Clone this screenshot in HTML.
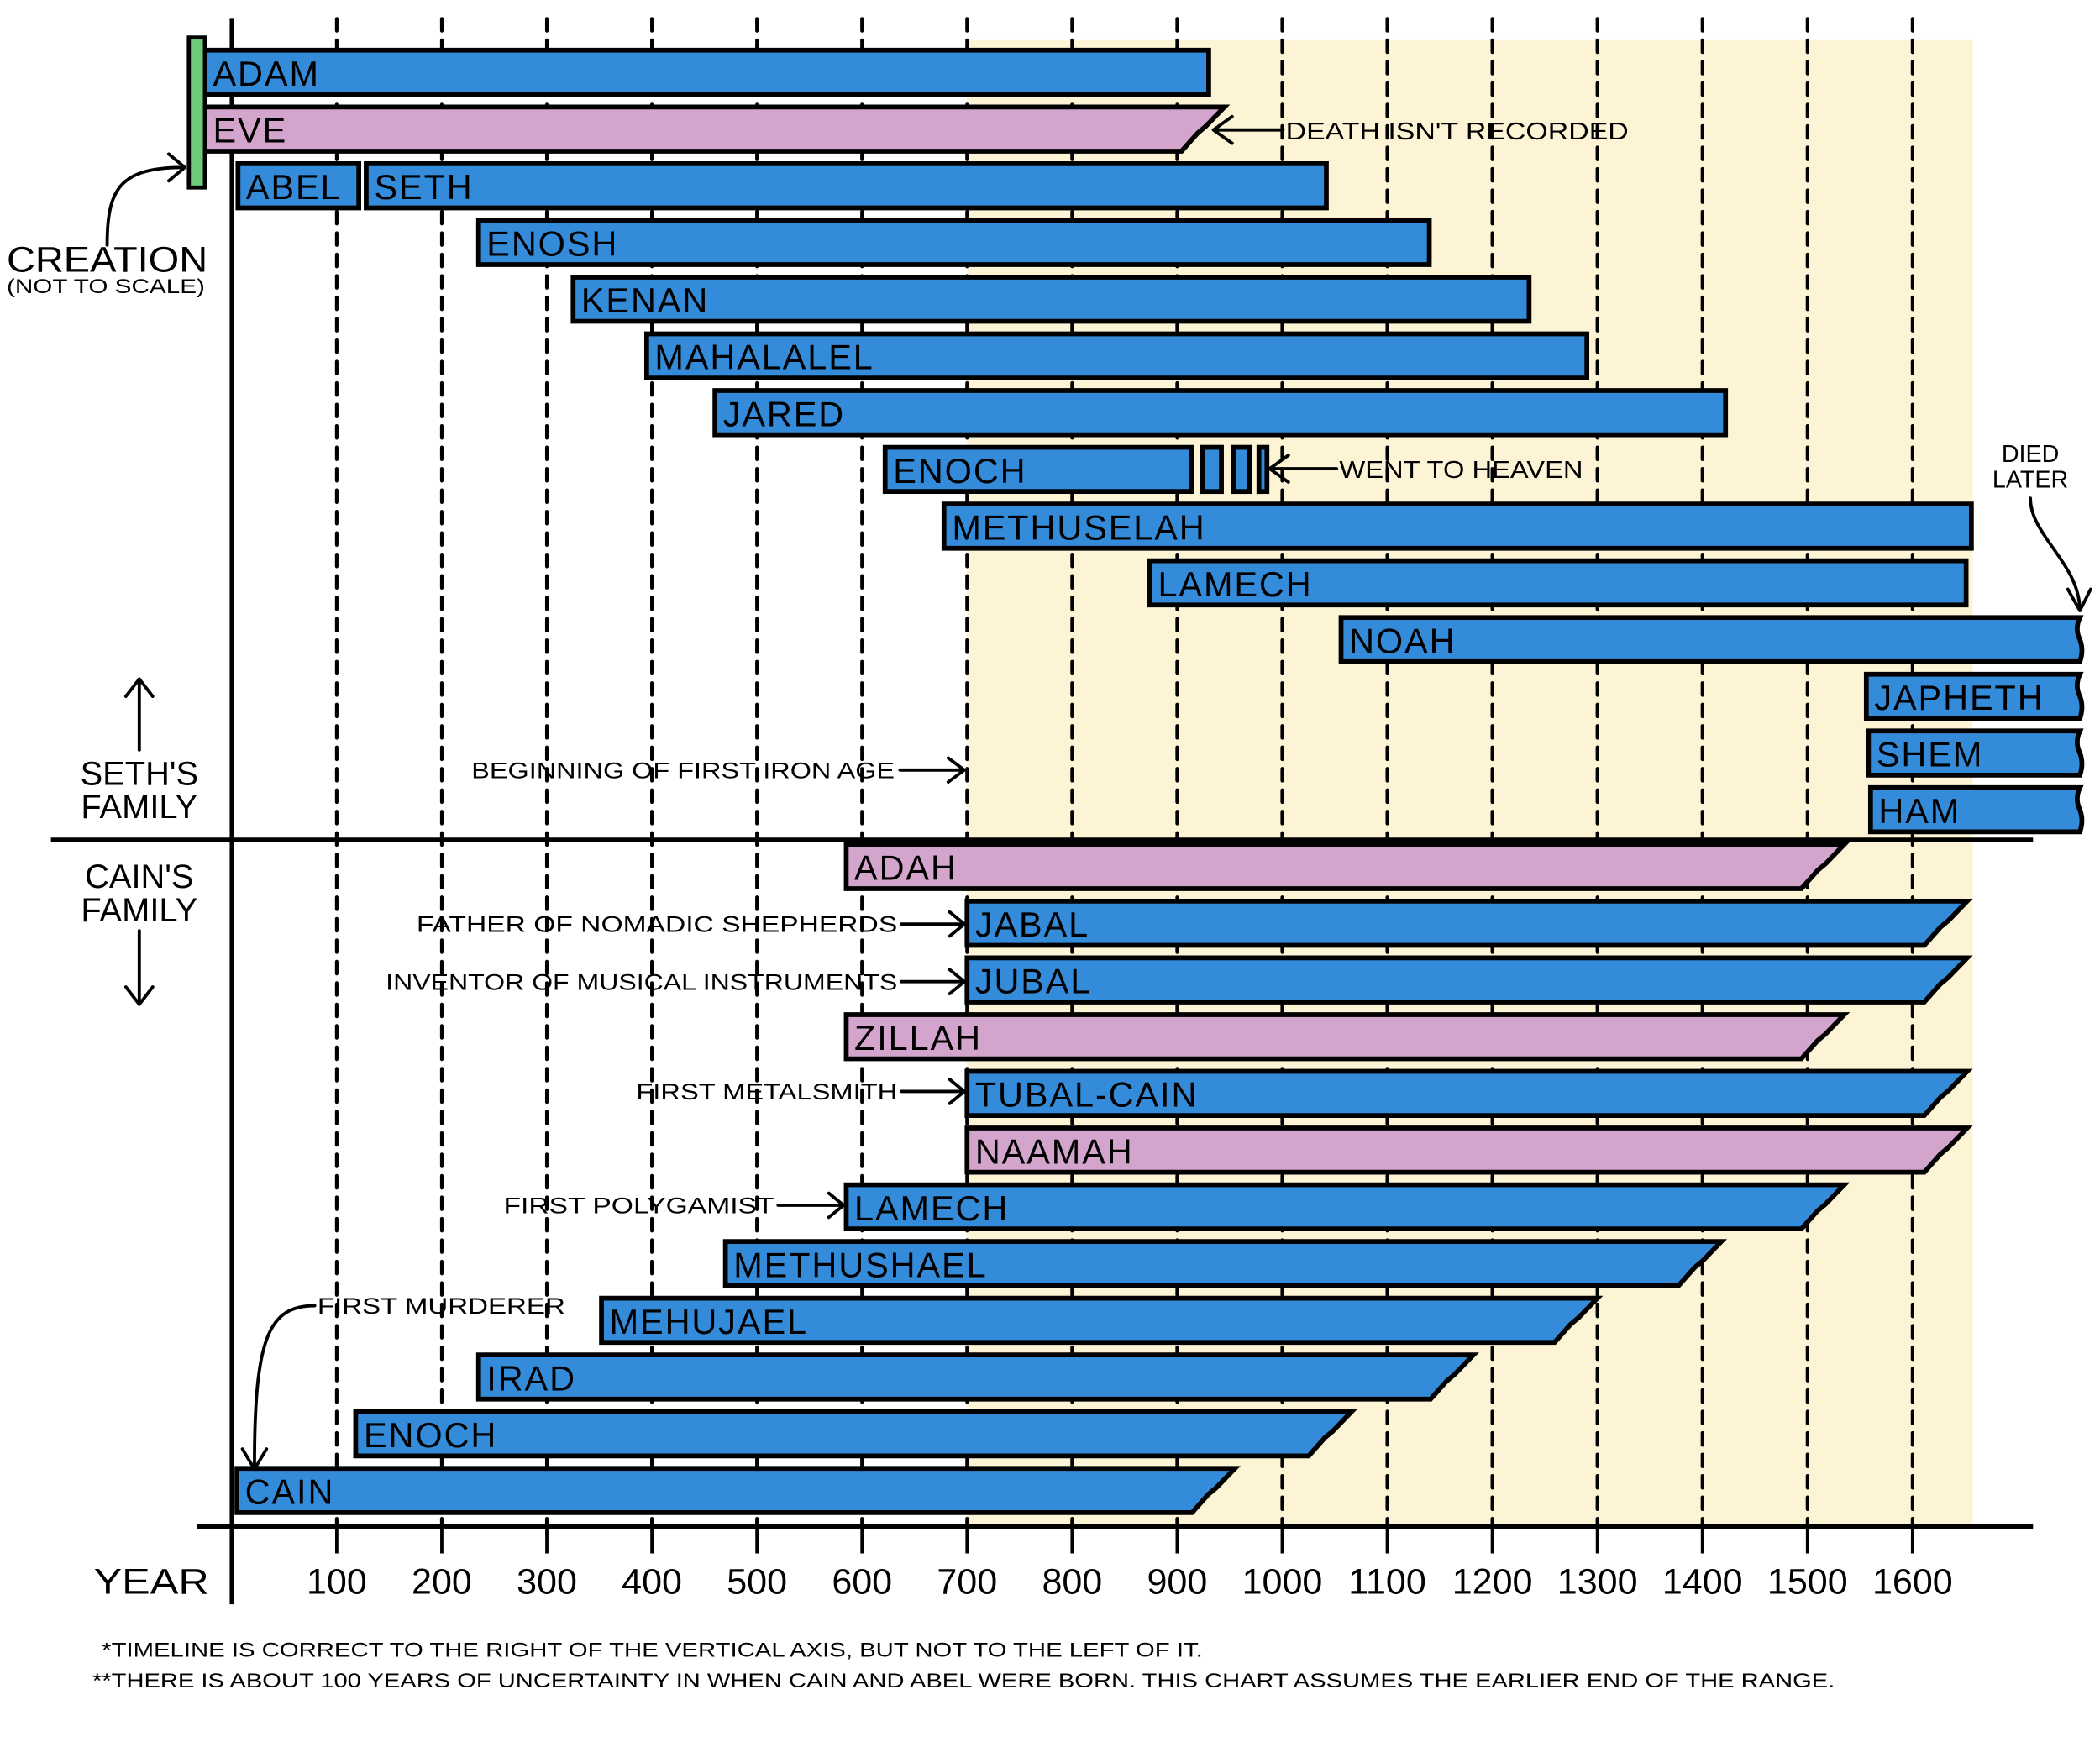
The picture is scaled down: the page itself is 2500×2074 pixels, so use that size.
<!DOCTYPE html>
<html><head><meta charset="utf-8"><style>
html,body{margin:0;padding:0;background:#fff}
svg{display:block}
text{font-family:"Liberation Sans",sans-serif;fill:#000}
</style></head><body>
<svg id="chart" width="2500" height="2074" viewBox="0 0 1568 1300.8" xmlns="http://www.w3.org/2000/svg">
<rect x="0" y="0" width="1568" height="1301" fill="#fff"/>
<g id="bg"></g><g id="grid"></g><g id="bars"></g><g id="ann"></g>
</svg>
<script>
const names = ["ADAM","EVE","ABEL","SETH","ENOSH","KENAN","MAHALALEL","JARED","ENOCH","METHUSELAH","LAMECH","NOAH","JAPHETH","SHEM","HAM","ADAH","JABAL","JUBAL","ZILLAH","TUBAL-CAIN","NAAMAH","LAMECH","METHUSHAEL","MEHUJAEL","IRAD","ENOCH","CAIN"];
const rows = [0,1,2,2,3,4,5,6,7,8,9,10,11,12,13,14,15,16,17,18,19,20,21,22,23,24,25];
const births = [-25,-25,6,128,235,325,395,460,622,678,874,1056,1556,1558,1560,585,700,700,585,700,700,585,470,352,235,118,5];
const deaths = [930,945,121,1042,1140,1235,1290,1422,914,1656,1651,1760,1760,1760,1760,1535,1652,1652,1535,1652,1652,1535,1418,1300,1182,1066,955];
const colors = ["b","p","b","b","b","b","b","b","b","b","b","b","b","b","b","p","b","b","p","b","p","b","b","b","b","b","b"];
const ends = ["flat","cut","flat","flat","flat","flat","flat","flat","flat","flat","flat","wave","wave","wave","wave","cut","cut","cut","cut","cut","cut","cut","cut","cut","cut","cut","cut"];
const ticks = [100,200,300,400,500,600,700,800,900,1000,1100,1200,1300,1400,1500,1600];

const NS="http://www.w3.org/2000/svg";
const X = y => 173 + y*0.7844;
const RY = r => 54 + r*42.36;
const H = 33;
const fill = {b:"#338bd9",p:"#d4a5cc"};
function mk(tag, attrs, parent, txt){const e=document.createElementNS(NS,tag);for(const k in attrs)e.setAttribute(k,attrs[k]);if(txt!==undefined)e.textContent=txt;document.getElementById(parent).appendChild(e);return e;}

let e;
e=mk("rect",{x:X(700),y:30,width:1473-X(700),height:1110,fill:"#fdf4d6"},"bg");



ticks.forEach(t=>{
  e=mk("line",{x1:X(t),y1:14,x2:X(t),y2:1140,stroke:"#000","stroke-width":2.6,"stroke-dasharray":"9 7","stroke-linecap":"round"},"grid");
  
  
  e=mk("line",{x1:X(t),y1:1140,x2:X(t),y2:1160,stroke:"#000","stroke-width":2.4},"grid");
  
  
  e=mk("text",{x:X(t),y:1190,"font-size":27,"text-anchor":"middle"},"grid",String(t));
  
  
});
e=mk("line",{x1:173,y1:14,x2:173,y2:1198,stroke:"#000","stroke-width":3},"grid");


e=mk("line",{x1:147,y1:1140,x2:1518,y2:1140,stroke:"#000","stroke-width":4},"grid");


e=mk("line",{x1:38,y1:627,x2:1518,y2:627,stroke:"#000","stroke-width":3},"grid");


e=mk("text",{x:70,y:1190,"font-size":27,textLength:86,lengthAdjust:"spacingAndGlyphs"},"grid","YEAR");



names.forEach((n,i)=>{
  let x0=Math.max(X(births[i]),153), x1=Math.min(X(deaths[i]),1553);
  if(names[i]==="ADAM"||names[i]==="EVE") x0=153;
  const yc=RY(rows[i]), t=yc-H/2, b=yc+H/2;
  let d;
  if(ends[i]==="cut"){
    d=`M${x0},${t} L${x1},${t} L${x1-14},${yc-2} L${x1-20},${yc+3} L${x1-32},${b} L${x0},${b} Z`;
  } else if(ends[i]==="wave"){
    d=`M${x0},${t} L${x1},${t} Q${x1-4},${yc-8} ${x1},${yc} Q${x1+3},${yc+8} ${x1},${b} L${x0},${b} Z`;
  } else {
    d=`M${x0},${t} L${x1},${t} L${x1},${b} L${x0},${b} Z`;
  }
  e=mk("path",{d:d,fill:fill[colors[i]],stroke:"#000","stroke-width":3.6,"stroke-linejoin":"miter"},"bars");
  
  
  e=mk("text",{x:x0+6,y:yc+10,"font-size":26,"letter-spacing":1.2},"bars",n);
  
  
});
[[898,912],[921,933],[940,946]].forEach((p,k)=>{
  e=mk("rect",{x:p[0],y:RY(7)-H/2,width:p[1]-p[0],height:H,fill:"#338bd9",stroke:"#000","stroke-width":3.6},"bars");
  
  
});
e=mk("rect",{x:141,y:28,width:12,height:112,fill:"#6ec978",stroke:"#000","stroke-width":3},"bars");



function label(txt,x,y,w,size,name,anchor){
  const a={x:x,y:y,"font-size":size};
  if(w) {a.textLength=w;a.lengthAdjust="spacingAndGlyphs";}
  if(anchor) a["text-anchor"]=anchor;
  return mk("text",a,"ann",txt);
}
function arrow(d){
  return mk("path",{d:d,fill:"none",stroke:"#000","stroke-width":2.4,"stroke-linecap":"round","stroke-linejoin":"round"},"ann");
}
e=label("DEATH ISN'T RECORDED",960,104,256,18);  
e=arrow("M958,97 L908,97 M920,87 L906,97 L920,107");  
e=label("WENT TO HEAVEN",1000,357,182,18);  
e=arrow("M998,350 L950,350 M962,340 L948,350 L962,360");  
e=label("DIED",1516,345,null,18,null,"middle");  
e=label("LATER",1516,364,null,18,null,"middle");  
e=arrow("M1516,372 C1516,400 1552,420 1553,455 M1544,440 L1553,456 L1561,440");  
e=label("BEGINNING OF FIRST IRON AGE",352,581,316,17);  
e=arrow("M672,575 L718,575 M708,566 L720,575 L708,584");  
[["FATHER OF NOMADIC SHEPHERDS",311,690,359,700],["INVENTOR OF MUSICAL INSTRUMENTS",288,733,382,700],["FIRST METALSMITH",475,815,195,700],["FIRST POLYGAMIST",376,900,202,585]].forEach(a=>{
  e=label(a[0],a[1],a[2]+6,a[3],17);  
  const tx=X(a[4])-2, sx=a[1]+a[3]+3;
  e=arrow(`M${sx},${a[2]} L${tx},${a[2]} M${tx-11},${a[2]-9} L${tx},${a[2]} L${tx-11},${a[2]+9}`);  
});
e=label("FIRST MURDERER",237,981,185,17);  
e=arrow("M235,975 C200,975 190,1000 190,1095 M181,1082 L190,1097 L199,1082");  
e=label("CREATION",5,203,150,27);  
e=label("(NOT TO SCALE)",5,219,148,15);  
e=arrow("M80,183 C80,140 90,125 138,125 M126,115 L138,125 L126,135");  
e=label("SETH'S",104,586,null,25,null,"middle");  
e=label("FAMILY",104,611,null,25,null,"middle");  
e=arrow("M104,560 L104,507 M94,520 L104,507 L114,520");  
e=label("CAIN'S",104,663,null,25,null,"middle");  
e=label("FAMILY",104,688,null,25,null,"middle");  
e=arrow("M104,695 L104,750 M94,737 L104,750 L114,737");  
e=label("*TIMELINE IS CORRECT TO THE RIGHT OF THE VERTICAL AXIS, BUT NOT TO THE LEFT OF IT.",76,1237,822,15);  
e=label("**THERE IS ABOUT 100 YEARS OF UNCERTAINTY IN WHEN CAIN AND ABEL WERE BORN. THIS CHART ASSUMES THE EARLIER END OF THE RANGE.",69,1260,1301,15);  
</script>
</body></html>
